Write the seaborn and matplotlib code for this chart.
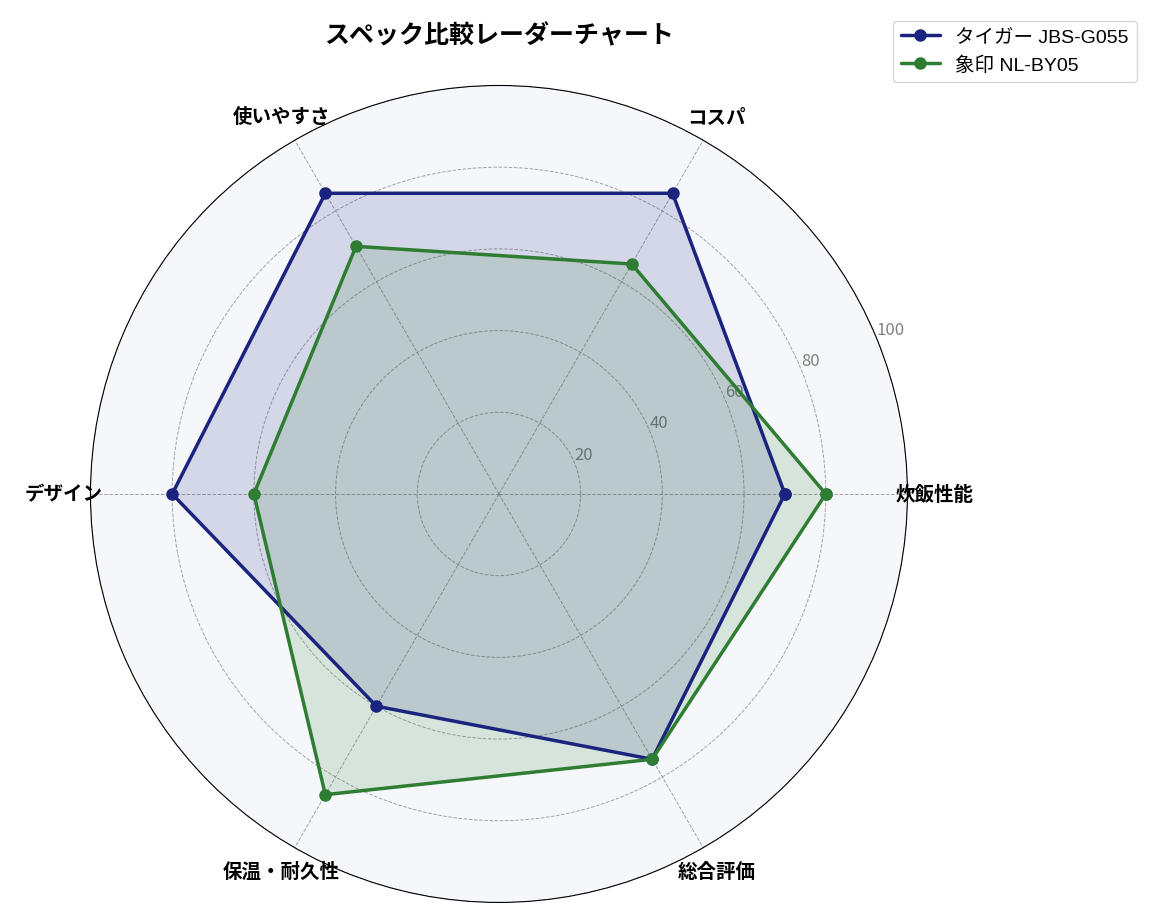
import numpy as np
import matplotlib
matplotlib.use('Agg')
import matplotlib.pyplot as plt
import seaborn as sns

sns.set_style('white')
plt.rcParams['font.family'] = ['Noto Sans CJK JP', 'DejaVu Sans']
plt.rcParams['text.color'] = 'black'
plt.rcParams['xtick.color'] = 'black'

# データ
categories = ['炊飯性能', 'コスパ', '使いやすさ', 'デザイン', '保温・耐久性', '総合評価']
tiger_scores = [70, 85, 85, 80, 60, 75]
zojirushi_scores = [80, 65, 70, 60, 85, 75]
series_names = ['タイガー JBS-G055', '象印 NL-BY05']
colors = ['#1a237e', '#2e7d32']

angles = np.linspace(0, 2 * np.pi, len(categories), endpoint=False).tolist()
angles += angles[:1]

fig = plt.figure(figsize=(11.59, 9.2), dpi=100)
ax = fig.add_axes([0.078, 0.018, 0.705, 0.888], polar=True)
ax.set_facecolor('#f5f7fa')

for name, scores, color in zip(series_names, [tiger_scores, zojirushi_scores], colors):
    vals = scores + scores[:1]
    ax.plot(angles, vals, color=color, linewidth=2.5, marker='o', markersize=8, label=name, zorder=3)
    ax.fill(angles, vals, color=color, alpha=0.15, zorder=2)

ax.set_ylim(0, 100)
ax.set_xticks(angles[:-1])
ax.set_xticklabels(categories, fontsize=14, fontweight='bold', color='black')
ax.tick_params(axis='x', pad=9)
ax.set_yticks([20, 40, 60, 80, 100])
ax.set_yticklabels(['20', '40', '60', '80', '100'], fontsize=12, color='gray')
ax.set_rlabel_position(22.5)
ax.grid(True, color='gray', linestyle='--', linewidth=0.7, alpha=0.7)
ax.spines['polar'].set_color('black')

ax.set_title('スペック比較レーダーチャート', fontsize=18, fontweight='bold', pad=31, color='black')
fig.legend(loc='upper right', bbox_to_anchor=(0.989, 0.987),
           prop={'family': ['Liberation Sans', 'Noto Sans CJK JP'], 'size': 14})

plt.savefig('out.png', dpi=100)
